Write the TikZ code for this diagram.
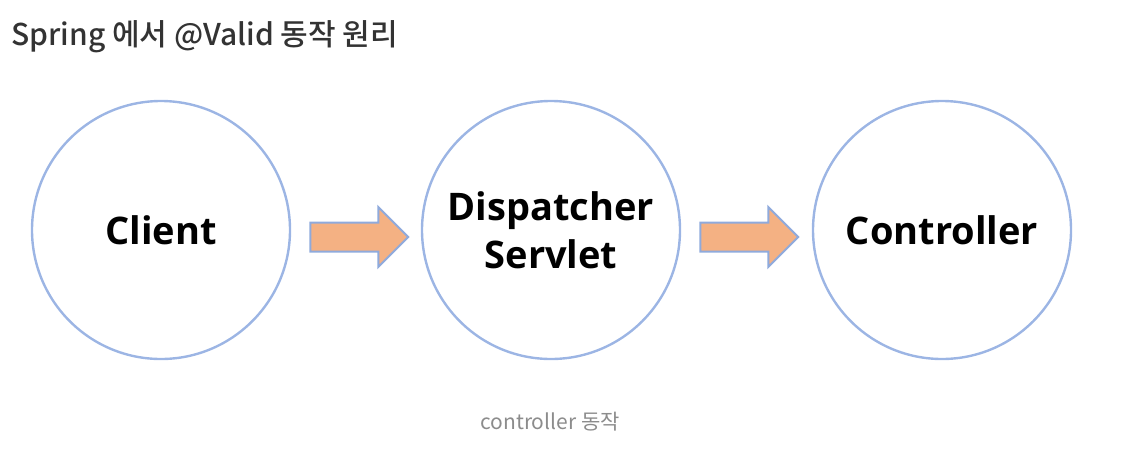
\documentclass[tikz,border=0pt]{standalone}
\usepackage{fontspec}
\setmainfont{Noto Sans CJK KR}
\newfontfamily\titlefont{Noto Sans CJK KR Medium}
\newfontfamily\labelfont{Open Sans}
\usetikzlibrary{shapes.arrows}
\definecolor{ringblue}{RGB}{156,181,228}
\definecolor{flowfill}{RGB}{244,177,131}
\definecolor{flowline}{RGB}{143,170,220}
\definecolor{titlegray}{RGB}{51,51,51}
\definecolor{captiongray}{RGB}{140,140,140}
\tikzset{
    stage/.style={circle,draw=ringblue,line width=2.4pt,minimum size=258pt,
        inner sep=0pt,align=center,font=\labelfont\bfseries\fontsize{38}{48}\selectfont},
    flow/.style={single arrow,fill=flowfill,draw=flowline,line width=2pt,
        minimum height=98pt,minimum width=58pt,inner ysep=13.5pt,inner xsep=0pt,
        single arrow head extend=15.5pt,single arrow head indent=0pt}
}
\begin{document}
\begin{tikzpicture}[x=1pt,y=-1pt]
            \useasboundingbox (0,0) rectangle (1131,451);

            \node [anchor=base west,text=titlegray,font=\titlefont\fontsize{30}{36}\selectfont]
                (title) at (8,45) {Spring 에서 @Valid 동작 원리};

            \node [stage] (client) at (161,230) {Client};
            \node [stage] (servlet) at (551,230) {Dispatcher\\Servlet};
            \node [stage] (ctrl) at (942,230) {Controller};

            \node [flow] (f1) at (352,237) {};
            \node [flow] (f2) at (742,237) {};

            \node [anchor=base,text=captiongray,font=\fontsize{21}{24}\selectfont]
                (caption) at (550,429) {controller 동작};
        \end{tikzpicture}
\end{document}
